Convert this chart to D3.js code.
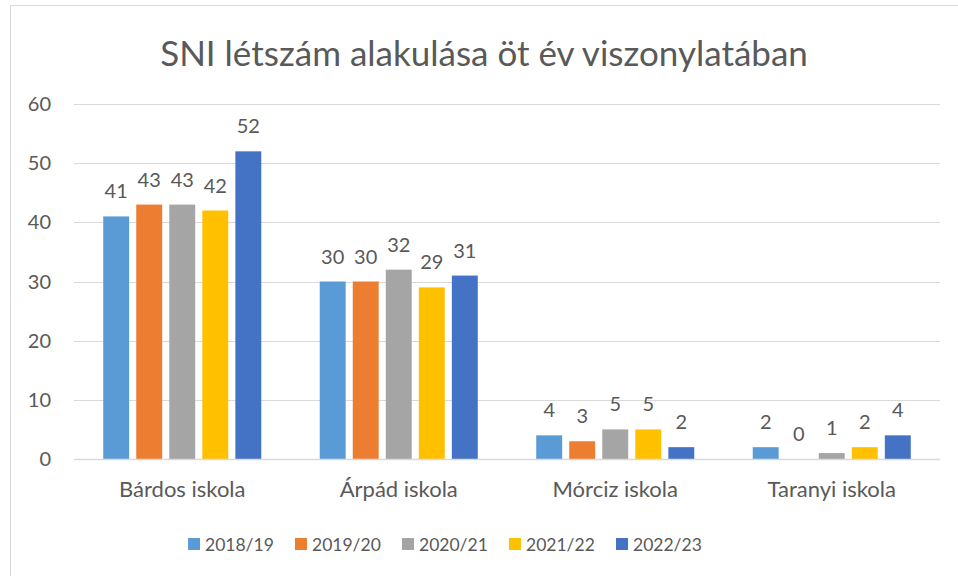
<!DOCTYPE html>
<html>
<head>
<meta charset="utf-8">
<script src="https://cdn.jsdelivr.net/npm/d3@7"></script>
<style>
  body { margin: 0; background: #fff; }
  text { font-family: Lato, "Open Sans", sans-serif; fill: #595959; }
</style>
</head>
<body>
<div id="chart"></div>
<script>
const width = 958;
const height = 576;

const schools = ['Bárdos iskola', 'Árpád iskola', 'Mórciz iskola', 'Taranyi iskola'];
const years = ['2018/19', '2019/20', '2020/21', '2021/22', '2022/23'];
const colors = ['#5B9BD5', '#ED7D31', '#A5A5A5', '#FFC000', '#4472C4'];
const v2018 = [41, 30, 4, 2];
const v2019 = [43, 30, 3, 0];
const v2020 = [43, 32, 5, 1];
const v2021 = [42, 29, 5, 2];
const v2022 = [52, 31, 2, 4];
const yTicks = [0, 10, 20, 30, 40, 50, 60];

const series = [v2018, v2019, v2020, v2021, v2022];

const svg = d3.select('#chart')
  .append('svg')
  .attr('width', width)
  .attr('height', height);

// chart frame (only top and left edges are visible)
svg.append('path')
  .attr('d', `M10.5,${height} V5.5 H${width}`)
  .attr('fill', 'none')
  .attr('stroke', '#d9d9d9');

svg.append('text')
  .attr('x', 484)
  .attr('y', 66)
  .attr('text-anchor', 'middle')
  .style('font-size', '35px')
  .text('SNI létszám alakulása öt év viszonylatában');

const y = d3.scaleLinear().domain([0, 60]).range([459, 104]);

const x0 = d3.scaleBand()
  .domain(schools)
  .range([74, 940])
  .paddingInner(0.27)
  .paddingOuter(0.135);

const x1 = d3.scaleBand()
  .domain(years)
  .range([0, x0.bandwidth()])
  .paddingInner(0.215);

// gridlines
svg.selectAll('.grid')
  .data(yTicks)
  .enter()
  .append('line')
  .attr('x1', 74)
  .attr('x2', 940)
  .attr('y1', d => Math.round(y(d)) + 0.5)
  .attr('y2', d => Math.round(y(d)) + 0.5)
  .attr('stroke', '#d9d9d9')
  .attr('stroke-width', 1);

svg.selectAll('.ytick')
  .data(yTicks)
  .enter()
  .append('text')
  .attr('x', 51)
  .attr('y', d => y(d) + 7)
  .attr('text-anchor', 'end')
  .style('font-size', '20px')
  .text(d => d);

const groups = svg.selectAll('.group')
  .data(schools)
  .enter()
  .append('g')
  .attr('transform', d => `translate(${x0(d)},0)`);

groups.each(function (school, i) {
  const g = d3.select(this);
  years.forEach((yr, j) => {
    const v = series[j][i];
    g.append('rect')
      .attr('x', x1(yr))
      .attr('y', y(v))
      .attr('width', x1.bandwidth())
      .attr('height', y(0) - y(v))
      .attr('fill', colors[j]);
    g.append('text')
      .attr('x', x1(yr) + x1.bandwidth() / 2)
      .attr('y', y(v) - 18)
      .attr('text-anchor', 'middle')
      .style('font-size', '20px')
      .text(v);
  });
});

// axis line
svg.append('line')
  .attr('x1', 74)
  .attr('x2', 940)
  .attr('y1', 459.5)
  .attr('y2', 459.5)
  .attr('stroke', '#d9d9d9')
  .attr('stroke-width', 1.5);

svg.selectAll('.xlabel')
  .data(schools)
  .enter()
  .append('text')
  .attr('x', d => x0(d) + x0.bandwidth() / 2)
  .attr('y', 497)
  .attr('text-anchor', 'middle')
  .style('font-size', '22px')
  .text(d => d);

// legend
const legend = svg.selectAll('.legend')
  .data(years)
  .enter()
  .append('g')
  .attr('transform', (d, i) => `translate(${188 + i * 107},0)`);

legend.append('rect')
  .attr('x', 0)
  .attr('y', 538)
  .attr('width', 12)
  .attr('height', 12)
  .attr('fill', (d, i) => colors[i]);

legend.append('text')
  .attr('x', 17)
  .attr('y', 551)
  .style('font-size', '17.5px')
  .text(d => d);
</script>
</body>
</html>
